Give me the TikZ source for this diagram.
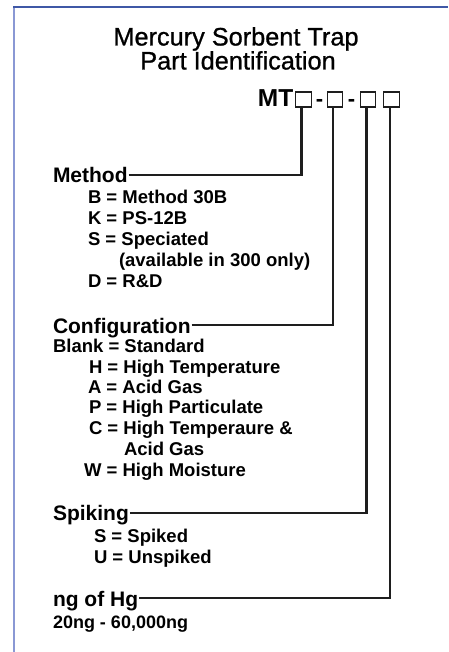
\documentclass[tikz,border=0pt]{standalone}
\usepackage{fontspec}
\setmainfont{Liberation Sans}
\newfontfamily\titlefont[FakeBold=0.9]{Liberation Sans}
\definecolor{frameL}{HTML}{8A98D4}
\definecolor{frameT}{HTML}{3F58A6}
\definecolor{conncol}{HTML}{1E1E1E}
\tikzset{
  head/.style={anchor=base west, inner sep=0pt, outer sep=0pt, font=\fontsize{21}{24}\selectfont\bfseries},
  item/.style={anchor=base west, inner sep=0pt, outer sep=0pt, font=\fontsize{18.5}{20}\selectfont\bfseries},
  ttl/.style={anchor=base, inner sep=0pt, font=\titlefont\fontsize{25.3}{27}\selectfont},
  box/.style={draw=conncol, line width=1.3pt, minimum width=15.5pt, minimum height=15pt, inner sep=0pt},
  dashtxt/.style={anchor=base, inner sep=0pt, font=\fontsize{22}{24}\selectfont\bfseries},
  conn/.style={draw=conncol, line width=2.8pt},
}
\begin{document}
\begin{tikzpicture}[x=1pt,y=-1pt]
\useasboundingbox (0,0) rectangle (448,652);
\fill[white] (0,0) rectangle (448,652);
\draw[frameL, line width=2pt] (14,7) -- (14,652);
\draw[frameT, line width=1.6pt] (13,7) -- (448,7);

\node[ttl] (t1) at (236,45.5) {Mercury Sorbent Trap};
\node[ttl] (t2) at (238,69.5) {Part Identification};

\node[anchor=base east, inner sep=0pt, font=\fontsize{24.5}{26}\selectfont\bfseries] (mt) at (293.5,106.5) {MT};
\node[box] (b1) at (303.5,99.5) {};
\node[box] (b2) at (335,99.5) {};
\node[box] (b3) at (368,99.5) {};
\node[box] (b4) at (391.5,99.5) {};
\node[dashtxt] (d1) at (319.5,106.5) {-};
\node[dashtxt] (d2) at (351.5,106.5) {-};

% Method
\node[head] (method) at (53,183) {Method};
\node[item] (m1) at (88,204) {B = Method 30B};
\node[item] (m2) at (88,224) {K = PS-12B};
\node[item] (m3) at (88,245) {S = Speciated};
\node[item] (m4) at (119,266) {(available in 300 only)};
\node[item] (m5) at (88,287) {D = R\&D};

% Configuration
\node[head] (config) at (53,333) {Configuration};
\node[item] (c0) at (53,352) {Blank = Standard};
\node[item] (c1) at (89,373) {H = High Temperature};
\node[item] (c2) at (88,393) {A = Acid Gas};
\node[item] (c3) at (89,413) {P = High Particulate};
\node[item] (c4) at (89,434) {C = High Temperaure \&};
\node[item] (c5) at (124,455) {Acid Gas};
\node[item] (c6) at (84,476) {W = High Moisture};

% Spiking
\node[head] (spike) at (53,520) {Spiking};
\node[item] (s1) at (94,542) {S = Spiked};
\node[item] (s2) at (94,563) {U = Unspiked};

% ng of Hg
\node[head] (ng) at (53,606) {ng of Hg};
\node[item, font=\fontsize{18}{19}\selectfont\bfseries] (r1) at (53,628) {20ng - 60,000ng};

\coordinate (y1) at (0,175);
\coordinate (y2) at (0,325);
\coordinate (y3) at (0,513);
\coordinate (y4) at (0,598);

\draw[conn] ([xshift=1pt]method.east |- y1) -| ([xshift=-2pt]b1.south);
\draw[conn] ([xshift=1pt]config.east |- y2) -| ([xshift=-2pt]b2.south);
\draw[conn] ([xshift=1pt]spike.east |- y3) -| ([xshift=-1.5pt]b3.south);
\draw[conn] ([xshift=1pt]ng.east |- y4) -| ([xshift=-1.5pt]b4.south);
\end{tikzpicture}
\end{document}
